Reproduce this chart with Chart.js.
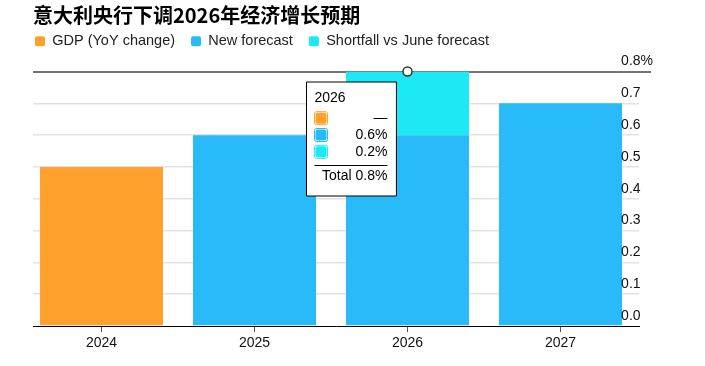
<!DOCTYPE html>
<html>
<head>
<meta charset="utf-8">
<script src="https://cdn.jsdelivr.net/npm/chart.js@4.4.1/dist/chart.umd.min.js"></script>
<style>
  html, body { margin: 0; padding: 0; background: #ffffff; }
  #wrap { width: 705px; height: 366px; }
</style>
</head>
<body>
<div id="wrap"><canvas id="c" width="705" height="366"></canvas></div>
<script>
// ---- data ----
const chartTitle = '意大利央行下调2026年经济增长预期';
const years = [2024, 2025, 2026, 2027];
const seriesNames = ['GDP (YoY change)', 'New forecast', 'Shortfall vs June forecast'];
const gdpActual = [0.5, null, null, null];
const newForecast = [null, 0.6, 0.6, 0.7];
const shortfall = [null, null, 0.2, null];
const juneForecast = [null, null, 0.8, null];
const yTickLabels = ['0.0', '0.1', '0.2', '0.3', '0.4', '0.5', '0.6', '0.7', '0.8%'];
const tooltipYear = 2026;

// ---- styles ----
const FONT = "'Liberation Sans', Arial, Helvetica, sans-serif";
const COLORS = ['#FFA12C', '#29BBF9', '#1DE9F5'];
const TT_PAD = { top: 8, left: 8, right: 9, bottom: 11 };
const TT_LH = 14 * 1.2;

Chart.Tooltip.positioners.fixedBox = function () {
  const c = this.chart;
  return {
    x: c.scales.x.getPixelForValue(tooltipYear) - 101,
    y: c.scales.y.getPixelForValue(0.8) + 10.5
  };
};

const tooltipRule = {
  id: 'tooltipRule',
  afterTooltipDraw(chart, args) {
    const tt = args.tooltip;
    const ctx = chart.ctx;
    const y = Math.round(tt.y + tt.height - TT_PAD.bottom - TT_LH - 3) + 0.5;
    ctx.save();
    ctx.strokeStyle = '#000';
    ctx.lineWidth = 1;
    ctx.beginPath();
    ctx.moveTo(tt.x + TT_PAD.left, y);
    ctx.lineTo(tt.x + tt.width - TT_PAD.right, y);
    ctx.stroke();
    ctx.restore();
  }
};

const isTop = v => Math.abs(v - 0.8) < 1e-6;

const chart = new Chart(document.getElementById('c'), {
  type: 'bar',
  data: {
    labels: years,
    datasets: [
      { label: seriesNames[0], data: gdpActual, backgroundColor: COLORS[0], xAxisID: 'x', yAxisID: 'y', stack: 'bars' },
      { label: seriesNames[1], data: newForecast, backgroundColor: COLORS[1], xAxisID: 'x', yAxisID: 'y', stack: 'bars' },
      { label: seriesNames[2], data: shortfall, backgroundColor: COLORS[2], xAxisID: 'x', yAxisID: 'y', stack: 'bars' },
      { type: 'line', label: 'June forecast', data: juneForecast, xAxisID: 'x', yAxisID: 'y', stack: 'marker',
        showLine: false, pointRadius: 4.5, pointBorderWidth: 1.5, pointBorderColor: '#333',
        pointBackgroundColor: '#fff', clip: false, order: -1 }
    ]
  },
  options: {
    responsive: false,
    animation: false,
    events: [],
    devicePixelRatio: 1,
    layout: { padding: { left: 19, right: 66, top: 3, bottom: 11.2 } },
    datasets: { bar: { barPercentage: 0.804, categoryPercentage: 1.0, borderWidth: 0 } },
    scales: {
      x: {
        type: 'linear', position: 'bottom', stacked: true, offset: false,
        min: 2023.5523, max: 2027.5131,
        ticks: { stepSize: 1, includeBounds: false, padding: 3, color: '#111',
          font: { family: FONT, size: 14 }, callback: v => String(years[years.indexOf(v)] ?? '') },
        grid: { display: true, offset: false, drawOnChartArea: false, drawTicks: true, tickLength: 6,
          tickColor: '#555', tickWidth: 1 },
        border: { display: true, color: '#000', width: 1, z: 1 }
      },
      y: {
        type: 'linear', position: 'right', stacked: true, min: 0, max: 0.8,
        ticks: { stepSize: 0.1, mirror: true, crossAlign: 'far', align: 'end', padding: 14, labelOffset: -3,
          color: '#111', font: { family: FONT, size: 14 }, z: 1,
          callback: (v, i) => yTickLabels[i] },
        grid: {
          color: c => isTop(c.tick.value) ? '#737373' : (c.tick.value === 0 ? 'rgba(0,0,0,0)' : '#e2e2e2'),
          lineWidth: c => isTop(c.tick.value) ? 2 : 1.5,
          drawTicks: true, tickLength: 12, tickWidth: 2,
          tickColor: c => isTop(c.tick.value) ? '#737373' : 'rgba(0,0,0,0)'
        },
        border: { display: false },
        afterFit: s => { s.width = 0; }
      },
      yL: {
        type: 'linear', position: 'left', display: true,
        grid: { display: false }, ticks: { display: false }, border: { display: false },
        afterFit: s => { s.width = 14; }
      },
      xT: {
        type: 'linear', position: 'top', display: true,
        grid: { display: false }, ticks: { display: false }, border: { display: false },
        afterFit: s => { s.height = 13; }
      }
    },
    plugins: {
      title: {
        display: true, text: chartTitle, align: 'start', fullSize: false, color: '#000',
        font: { family: "'Noto Sans CJK SC', sans-serif", size: 20, weight: 'bold', lineHeight: 1.2 },
        padding: { top: 0, bottom: -9 }
      },
      legend: {
        display: true, position: 'top', align: 'start',
        labels: {
          boxWidth: 10, boxHeight: 10, padding: 16, color: '#222',
          font: { family: FONT, size: 14.5 }, useBorderRadius: true, borderRadius: 2,
          filter: item => item.datasetIndex < 3
        }
      },
      tooltip: {
        enabled: true, animation: false, position: 'fixedBox', xAlign: 'left', yAlign: 'top',
        caretSize: 0, caretPadding: 0, cornerRadius: 0,
        backgroundColor: '#fff', borderColor: '#000', borderWidth: 1,
        titleColor: '#000', bodyColor: '#000', footerColor: '#000',
        titleFont: { family: FONT, size: 14, weight: 'normal', lineHeight: 1.2 },
        bodyFont: { family: FONT, size: 14, weight: 'normal', lineHeight: 1.2 },
        footerFont: { family: FONT, size: 14, weight: 'normal', lineHeight: 1.2 },
        titleAlign: 'left', bodyAlign: 'right', footerAlign: 'right',
        titleMarginBottom: 3, bodySpacing: 0, footerMarginTop: 8,
        padding: TT_PAD,
        displayColors: true, boxWidth: 13, boxHeight: 13, boxPadding: 26,
        multiKeyBackground: 'rgba(0,0,0,0)',
        filter: item => item.datasetIndex < 3,
        callbacks: {
          title: items => String(years[items[0].dataIndex]),
          label: item => (item.raw === null || item.raw === undefined) ? '—' : item.raw.toFixed(1) + '%',
          labelColor: item => ({ borderColor: COLORS[item.datasetIndex], backgroundColor: COLORS[item.datasetIndex], borderWidth: 1, borderRadius: 2 }),
          footer: items => {
            const total = items.reduce((s, it) => s + (typeof it.raw === 'number' ? it.raw : 0), 0);
            return 'Total ' + total.toFixed(1) + '%';
          }
        }
      }
    }
  },
  plugins: [tooltipRule]
});

const idx = years.indexOf(tooltipYear);
chart.tooltip.setActiveElements([0, 1, 2].map(d => ({ datasetIndex: d, index: idx })), { x: 0, y: 0 });
chart.update();
</script>
</body>
</html>
